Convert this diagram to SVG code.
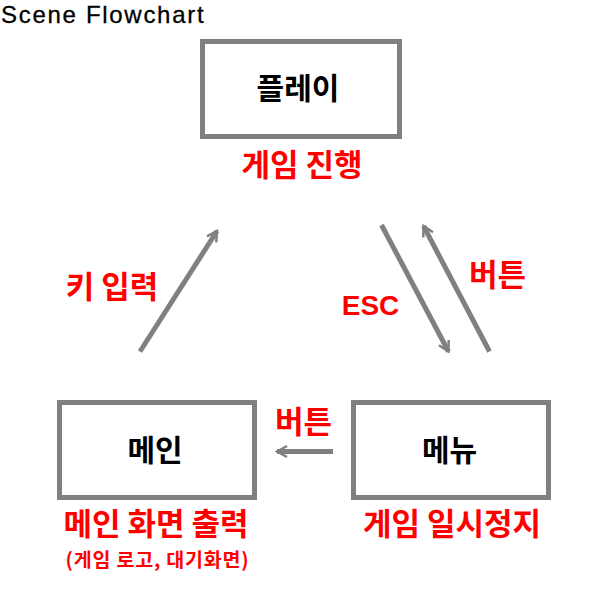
<svg xmlns="http://www.w3.org/2000/svg" width="600" height="600" viewBox="0 0 600 600">
  <style>
    .box { fill: #ffffff; stroke: #808080; stroke-width: 5; }
    .name { font-family: "Noto Sans CJK KR", "Noto Sans", sans-serif; font-weight: 700; font-size: 30px; fill: #000000; text-anchor: middle; }
    .lbl { font-family: "Noto Sans CJK KR", "Noto Sans", sans-serif; font-weight: 700; font-size: 31px; fill: #ff0000; text-anchor: middle; }
    .sub { font-size: 19.5px; letter-spacing: 0.8px; }
    .conn { stroke: #808080; stroke-width: 5; fill: none; }
    .title { font-family: "Liberation Sans", Arial, sans-serif; font-size: 24px; fill: #000000; letter-spacing: 1.7px; stroke: #000000; stroke-width: 0.3px; }
    .esc { font-family: "Liberation Sans", Arial, sans-serif; font-weight: 700; font-size: 28px; fill: #ff0000; text-anchor: middle; }
  </style>
  <defs>
    <marker id="arr" markerUnits="userSpaceOnUse" viewBox="-12 -8 14 16" refX="0" refY="0" markerWidth="14" markerHeight="16" orient="auto">
      <path d="M-10,-5.5 L0,0 L-10,5.5" fill="none" stroke="#808080" stroke-width="2.5" stroke-linejoin="miter"/>
    </marker>
  </defs>
  <rect width="600" height="600" fill="#ffffff"/>
  <text class="title" x="1" y="23">Scene Flowchart</text>

  <g id="connectors">
    <line class="conn" x1="140" y1="351.5" x2="217" y2="231" marker-end="url(#arr)"/>
    <line class="conn" x1="381.5" y1="225" x2="448.5" y2="351.5" marker-end="url(#arr)"/>
    <line class="conn" x1="489.5" y1="351.5" x2="423.5" y2="226" marker-end="url(#arr)"/>
    <line class="conn" x1="333" y1="451.5" x2="277" y2="451.5" marker-end="url(#arr)"/>
    <text class="lbl" x="112" y="298">키 입력</text>
    <text class="esc" x="370.5" y="315">ESC</text>
    <text class="lbl" x="497.5" y="286">버튼</text>
    <text class="lbl" x="303.5" y="433">버튼</text>
  </g>

  <g id="node-play">
    <rect class="box" x="202.5" y="41.5" width="197" height="95"/>
    <text class="name" x="298" y="99">플레이</text>
    <text class="lbl" x="302" y="176">게임 진행</text>
  </g>

  <g id="node-main">
    <rect class="box" x="59.5" y="402.5" width="195" height="95"/>
    <text class="name" x="155" y="461">메인</text>
    <text class="lbl" x="156" y="535">메인 화면 출력</text>
    <text class="lbl sub" x="157.5" y="567">(게임 로고, 대기화면)</text>
  </g>

  <g id="node-menu">
    <rect class="box" x="353.5" y="402.5" width="195" height="95"/>
    <text class="name" x="449.5" y="461">메뉴</text>
    <text class="lbl" x="452" y="535">게임 일시정지</text>
  </g>
</svg>
